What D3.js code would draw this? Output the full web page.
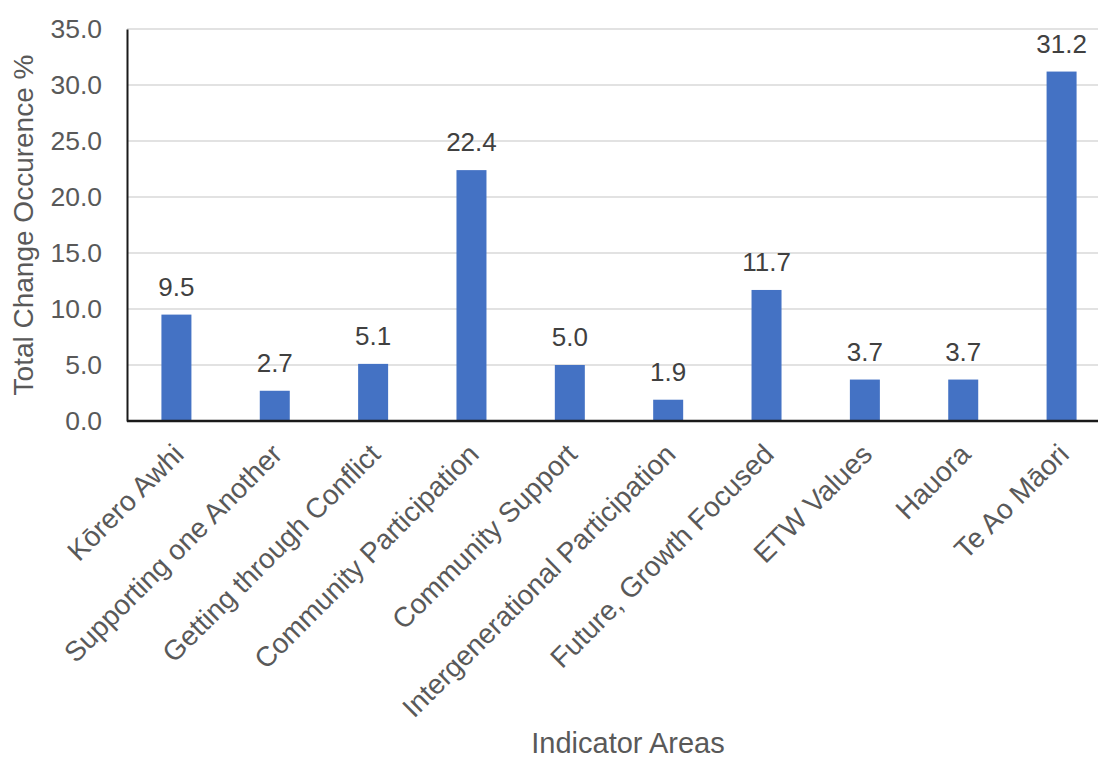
<!DOCTYPE html>
<html>
<head>
<meta charset="utf-8">
<script src="https://cdn.jsdelivr.net/npm/d3@7"></script>
<style>
  html, body { margin: 0; padding: 0; background: #fff; }
  svg { display: block; font-family: "Liberation Sans", Arial, sans-serif; }
</style>
</head>
<body>
<svg id="chart" width="1098" height="758"></svg>
<script>
// Indicator areas and their share of total change occurrence (%)
const categories = [
  "Kōrero Awhi",
  "Supporting one Another",
  "Getting through Conflict",
  "Community Participation",
  "Community Support",
  "Intergenerational Participation",
  "Future, Growth Focused",
  "ETW Values",
  "Hauora",
  "Te Ao Māori"
];
const values = [9.5, 2.7, 5.1, 22.4, 5.0, 1.9, 11.7, 3.7, 3.7, 31.2];
const yTicks = [0, 5, 10, 15, 20, 25, 30, 35];

const FONT = "Liberation Sans, Arial, sans-serif";
const svg = d3.select("#chart");
const margin = { left: 127, top: 29, right: -13, bottom: 337 };
const width = 1098 - margin.left - margin.right;
const height = 758 - margin.top - margin.bottom;

const g = svg.append("g").attr("transform", `translate(${margin.left},${margin.top})`);

const x = d3.scaleBand().domain(categories).range([0, width]).paddingInner(0.695).paddingOuter(0.35);
const y = d3.scaleLinear().domain([0, 35]).range([height, 0]);

// Gridlines
g.append("g")
  .selectAll("line")
  .data(yTicks.filter(t => t > 0))
  .join("line")
  .attr("x1", 0).attr("x2", width)
  .attr("y1", d => y(d)).attr("y2", d => y(d))
  .attr("stroke", "#d9d9d9").attr("stroke-width", 1.5);

// Bars
g.append("g")
  .selectAll("rect")
  .data(values)
  .join("rect")
  .attr("x", (d, i) => x(categories[i]))
  .attr("width", x.bandwidth())
  .attr("y", d => y(d))
  .attr("height", d => height - y(d))
  .attr("fill", "#4472c4");

// Value labels
g.append("g")
  .selectAll("text")
  .data(values)
  .join("text")
  .attr("x", (d, i) => x(categories[i]) + x.bandwidth() / 2)
  .attr("y", d => y(d) - 19)
  .attr("text-anchor", "middle")
  .attr("font-size", 26)
  .attr("font-family", FONT)
  .attr("fill", "#404040")
  .text(d => d.toFixed(1));

// Y axis
const yAxis = g.append("g")
  .call(d3.axisLeft(y).tickValues(yTicks).tickFormat(d3.format(".1f")).tickSize(0).tickPadding(25));
yAxis.select(".domain").attr("stroke", "#1a1a1a").attr("stroke-width", 2);
yAxis.selectAll("text")
  .attr("font-size", 26.5)
  .attr("fill", "#595959")
  .attr("font-family", FONT);

// X axis with slanted category labels
const xAxis = g.append("g")
  .attr("transform", `translate(0,${height})`)
  .call(d3.axisBottom(x).tickSize(0).tickPadding(0));
xAxis.select(".domain").attr("stroke", "#1a1a1a").attr("stroke-width", 2.5).attr("d", `M0,0H${width}`);
xAxis.selectAll("text")
  .attr("font-size", 28)
  .attr("fill", "#595959")
  .attr("font-family", FONT)
  .attr("text-anchor", "end")
  .attr("dy", 0)
  .attr("y", 0)
  .attr("transform", "translate(9,35) rotate(-45)");

// Axis titles
svg.append("text")
  .attr("transform", `translate(33,${margin.top + height / 2}) rotate(-90)`)
  .attr("text-anchor", "middle")
  .attr("font-size", 28)
  .attr("font-family", FONT)
  .attr("fill", "#595959")
  .text("Total Change Occurence %");

svg.append("text")
  .attr("x", 628)
  .attr("y", 753)
  .attr("text-anchor", "middle")
  .attr("font-size", 29)
  .attr("font-family", FONT)
  .attr("fill", "#595959")
  .text("Indicator Areas");
</script>
</body>
</html>
